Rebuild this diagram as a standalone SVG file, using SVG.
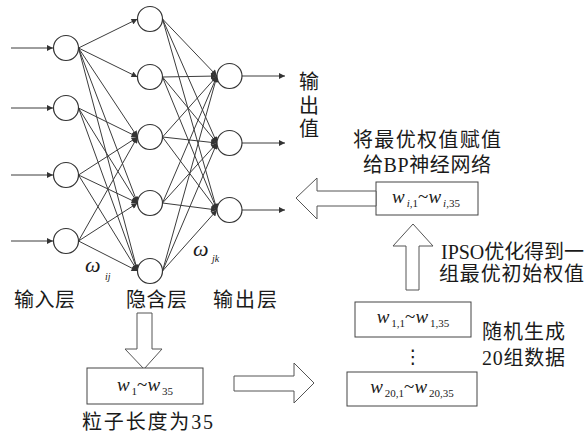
<svg xmlns="http://www.w3.org/2000/svg" width="585" height="432" viewBox="0 0 585 432">
<defs>
<marker id="ah" viewBox="0 0 10 10" refX="10" refY="5" markerWidth="7" markerHeight="6" markerUnits="userSpaceOnUse" orient="auto">
<path d="M0,0 L10,5 L0,10 z" fill="#333"/>
</marker>
<style>
.n{fill:#fff;stroke:#333;stroke-width:1.2}
.c line{stroke:#3c3c3c;stroke-width:1;marker-end:url(#ah)}
.box{fill:#fff;stroke:#444;stroke-width:1}
.big{fill:#fff;stroke:#555;stroke-width:1}
.cn{font-family:"Liberation Serif","Noto Sans CJK SC",serif;font-size:20px;fill:#1a1a1a}
.w{font-family:"Liberation Serif",serif;font-size:19px;fill:#1a1a1a}
.s{font-size:11px;font-style:normal}
.it{font-style:italic}
.om{font-family:"Liberation Serif",serif;font-size:22px;font-style:italic;fill:#1a1a1a}
.os{font-size:10px;font-style:italic}
</style>
</defs>
<rect width="585" height="432" fill="#fff"/>

<g id="connectors" class="c">
<!-- input arrows -->
<line x1="11" y1="48" x2="53" y2="48"/>
<line x1="11" y1="108" x2="53" y2="108"/>
<line x1="11" y1="175" x2="53" y2="175"/>
<line x1="11" y1="241" x2="53" y2="241"/>
<!-- input -> hidden -->
<line x1="78.5" y1="48" x2="137.5" y2="19"/>
<line x1="78.5" y1="48" x2="137.5" y2="77"/>
<line x1="78.5" y1="48" x2="137.5" y2="137"/>
<line x1="78.5" y1="48" x2="137.5" y2="203"/>
<line x1="78.5" y1="48" x2="137.5" y2="271"/>
<line x1="78.5" y1="108" x2="137.5" y2="137"/>
<line x1="78.5" y1="108" x2="137.5" y2="203"/>
<line x1="78.5" y1="108" x2="137.5" y2="271"/>
<line x1="78.5" y1="175" x2="137.5" y2="137"/>
<line x1="78.5" y1="175" x2="137.5" y2="203"/>
<line x1="78.5" y1="175" x2="137.5" y2="271"/>
<line x1="78.5" y1="241" x2="137.5" y2="137"/>
<line x1="78.5" y1="241" x2="137.5" y2="203"/>
<line x1="78.5" y1="241" x2="137.5" y2="271"/>
<!-- hidden -> output -->
<line x1="162.5" y1="19" x2="217" y2="76"/>
<line x1="162.5" y1="19" x2="217" y2="143"/>
<line x1="162.5" y1="19" x2="217" y2="210"/>
<line x1="162.5" y1="77" x2="217" y2="76"/>
<line x1="162.5" y1="77" x2="217" y2="143"/>
<line x1="162.5" y1="77" x2="217" y2="210"/>
<line x1="162.5" y1="137" x2="217" y2="76"/>
<line x1="162.5" y1="137" x2="217" y2="143"/>
<line x1="162.5" y1="137" x2="217" y2="210"/>
<line x1="162.5" y1="203" x2="217" y2="76"/>
<line x1="162.5" y1="203" x2="217" y2="143"/>
<line x1="162.5" y1="203" x2="217" y2="210"/>
<line x1="162.5" y1="271" x2="217" y2="76"/>
<line x1="162.5" y1="271" x2="217" y2="143"/>
<line x1="162.5" y1="271" x2="217" y2="210"/>
<!-- output arrows -->
<line x1="242" y1="76" x2="285" y2="76"/>
<line x1="242" y1="143" x2="285" y2="143"/>
<line x1="242" y1="210" x2="285" y2="210"/>
</g>

<g id="input-layer">
<circle class="n" cx="66" cy="48" r="12.5"/>
<circle class="n" cx="66" cy="108" r="12.5"/>
<circle class="n" cx="66" cy="175" r="12.5"/>
<circle class="n" cx="66" cy="241" r="12.5"/>
</g>
<g id="hidden-layer">
<circle class="n" cx="150" cy="19" r="12.5"/>
<circle class="n" cx="150" cy="77" r="12.5"/>
<circle class="n" cx="150" cy="137" r="12.5"/>
<circle class="n" cx="150" cy="203" r="12.5"/>
<circle class="n" cx="150" cy="271" r="12.5"/>
</g>
<g id="output-layer">
<circle class="n" cx="229.5" cy="76" r="12.5"/>
<circle class="n" cx="229.5" cy="143" r="12.5"/>
<circle class="n" cx="229.5" cy="210" r="12.5"/>
</g>

<g id="weight-labels">
<text class="om" x="85" y="272">ω<tspan class="os" x="105" dy="8">ij</tspan></text>
<text class="om" x="193" y="256">ω<tspan class="os" x="212" dy="6">jk</tspan></text>
</g>

<g id="layer-labels">
<text class="cn" x="14" y="307" textLength="61" lengthAdjust="spacing">输入层</text>
<text class="cn" x="126" y="307" textLength="61" lengthAdjust="spacing">隐含层</text>
<text class="cn" x="213" y="307" textLength="64" lengthAdjust="spacing">输出层</text>
<text class="cn" text-anchor="middle"><tspan x="309" y="89">输</tspan><tspan x="309" y="113">出</tspan><tspan x="309" y="136">值</tspan></text>
</g>

<g id="arrow-down">
<polygon class="big" points="137,313 152,313 152,349 162,349 144,369 125,349 137,349"/>
</g>
<g id="particle-box">
<rect class="box" x="87" y="368" width="116" height="36"/>
<text class="w" x="145" y="391" text-anchor="middle"><tspan class="it">w</tspan><tspan class="s" dx="2" dy="4">1</tspan><tspan dy="-4">~</tspan><tspan class="it">w</tspan><tspan class="s" dx="2" dy="4">35</tspan></text>
<text class="cn" x="82" y="429" textLength="131" lengthAdjust="spacing">粒子长度为35</text>
</g>
<g id="arrow-right">
<polygon class="big" points="234,376 294,376 294,363 314,383 294,403 294,391 234,391"/>
</g>
<g id="population">
<rect class="box" x="355" y="302" width="116" height="35"/>
<text class="w" x="413" y="323" text-anchor="middle"><tspan class="it">w</tspan><tspan class="s" dx="2" dy="4">1,1</tspan><tspan dy="-4">~</tspan><tspan class="it">w</tspan><tspan class="s" dx="2" dy="4">1,35</tspan></text>
<text x="413" y="363" text-anchor="middle" font-family="DejaVu Sans,sans-serif" font-size="19" fill="#1a1a1a">⋮</text>
<rect class="box" x="347" y="372" width="130" height="34"/>
<text class="w" x="412" y="393" text-anchor="middle"><tspan class="it">w</tspan><tspan class="s" dx="2" dy="4">20,1</tspan><tspan dy="-4">~</tspan><tspan class="it">w</tspan><tspan class="s" dx="2" dy="4">20,35</tspan></text>
<text class="cn" x="482" y="339" textLength="83" lengthAdjust="spacing">随机生成</text>
<text class="cn" x="482" y="365" textLength="83" lengthAdjust="spacing">20组数据</text>
</g>
<g id="arrow-up">
<polygon class="big" points="413,224 433,246 419,246 419,290 406,290 406,246 393,246"/>
<text class="cn" x="441" y="259" textLength="143" lengthAdjust="spacing">IPSO优化得到一</text>
<text class="cn" x="439" y="281" textLength="145" lengthAdjust="spacing">组最优初始权值</text>
</g>
<g id="best-box">
<rect class="box" x="376" y="182" width="102" height="33"/>
<text class="w" x="426" y="203" text-anchor="middle"><tspan class="it">w</tspan><tspan class="s" dx="2" dy="4"><tspan class="it">i</tspan>,1</tspan><tspan dy="-4">~</tspan><tspan class="it">w</tspan><tspan class="s" dx="2" dy="4"><tspan class="it">i</tspan>,35</tspan></text>
<text class="cn" x="353" y="147" textLength="148" lengthAdjust="spacing">将最优权值赋值</text>
<text class="cn" x="363" y="172" textLength="128" lengthAdjust="spacing">给BP神经网络</text>
</g>
<g id="arrow-left">
<polygon class="big" points="296,198 317,178 317,191 376,191 376,206 317,206 317,219"/>
</g>
</svg>
